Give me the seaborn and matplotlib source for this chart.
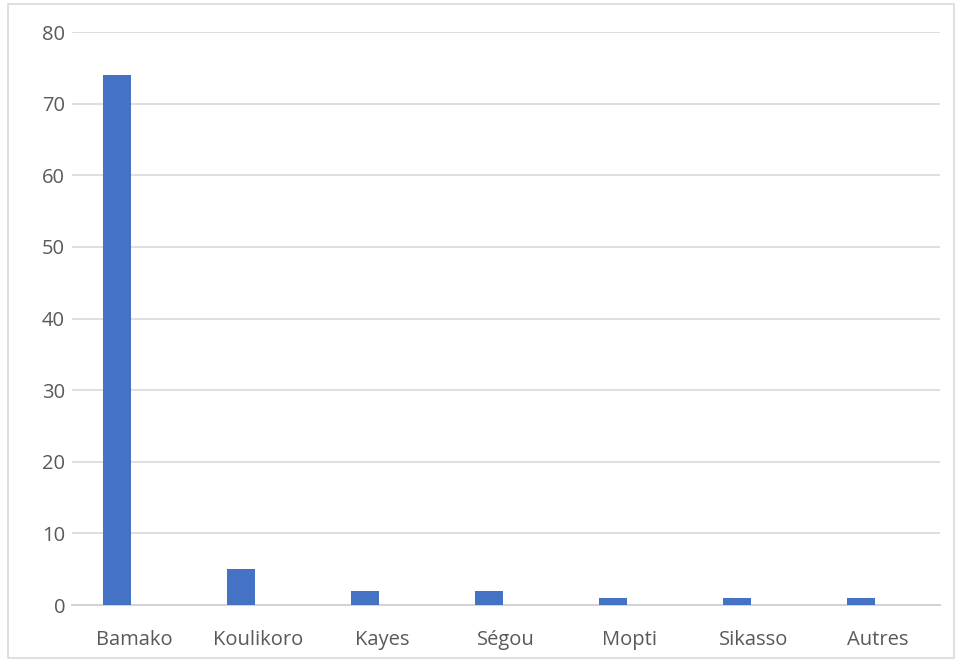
import matplotlib
matplotlib.use("Agg")
import matplotlib.pyplot as plt
import seaborn as sns
import pandas as pd
from matplotlib.patches import Rectangle

# Regions of origin and counts
regions = ["Bamako", "Koulikoro", "Kayes", "Ségou", "Mopti", "Sikasso", "Autres"]
counts = [74, 5, 2, 2, 1, 1, 1]
yticks = [0, 10, 20, 30, 40, 50, 60, 70, 80]

df = pd.DataFrame({"region": regions, "count": counts})

sns.set_theme(style="white")
plt.rcParams["font.family"] = ["Open Sans", "DejaVu Sans"]

fig = plt.figure(figsize=(9.57, 6.6), dpi=100)
ax = fig.add_axes([0.0752, 0.0833, 0.9822 - 0.0752, 0.9515 - 0.0833])

bar_width = 0.226
sns.barplot(data=df, x="region", y="count", color="#4472C4", width=bar_width,
            saturation=1, ax=ax, zorder=3)
# bars sit left of each category centre, as in a clustered column layout
for p in ax.patches:
    p.set_x(p.get_x() - 0.137)
    p.set_edgecolor("none")

ax.set_xlim(-0.5, len(regions) - 0.5)
ax.set_ylim(0, 80)
ax.set_yticks(yticks)
ax.yaxis.grid(True, color="#D9D9D9", linewidth=1.2, zorder=0)
ax.set_axisbelow(True)
for s in ["top", "right", "left"]:
    ax.spines[s].set_visible(False)
ax.spines["bottom"].set_color("#D0D0D0")
ax.spines["bottom"].set_linewidth(1.3)
ax.set_xlabel("")
ax.set_ylabel("")
ax.tick_params(axis="both", length=0, labelsize=14.5, colors="#595959")
ax.tick_params(axis="y", pad=5)
ax.tick_params(axis="x", pad=18)

# outer chart border
fig.patches.append(Rectangle((8 / 957, 2 / 660), 946 / 957, 654 / 660,
                             transform=fig.transFigure, fill=False,
                             edgecolor="#D9D9D9", linewidth=1.2))

fig.savefig("out.png", dpi=100)
